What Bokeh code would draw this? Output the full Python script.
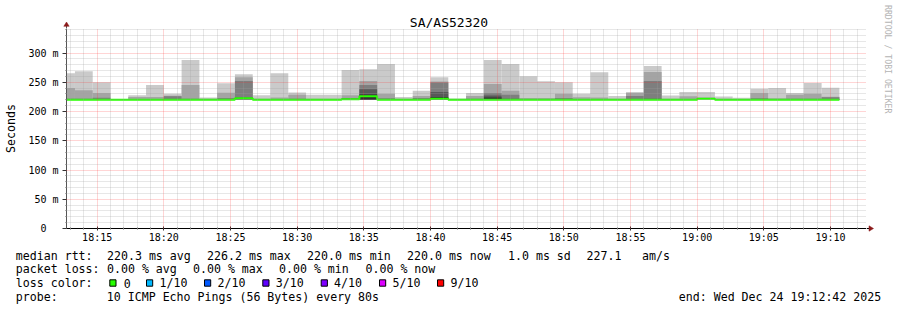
import calendar
import math
from datetime import datetime

from bokeh.plotting import figure
from bokeh.layouts import column, row
from bokeh.core.properties import value
from bokeh.models import (Range1d, FixedTicker, DatetimeTickFormatter, ColumnDataSource)
from bokeh.embed import file_html
from bokeh.resources import INLINE

# ---------------------------------------------------------------- data
TITLE = "SA/AS52320"
WINDOW_START = "2025-12-24 18:12:42"
WINDOW_END = "2025-12-24 19:12:42"
FIRST_STEP = "2025-12-24 18:12:00"
STEP_SECONDS = 80

# sorted ping values per 80 s step (ms): max (10th), 9th, 8th, 7th, 6th, lower pings, min
ping_max = [265.5, 269.0, 250.0, 221.5, 228.0, 245.5, 230.2, 288.0, 224.0, 248.5,
            263.7, 228.0, 265.5, 232.5, 228.5, 228.5, 271.0, 272.3, 281.0, 224.7,
            235.3, 258.7, 222.4, 231.8, 288.0, 281.0, 260.4, 251.9, 250.2, 230.4,
            267.2, 226.7, 233.2, 278.0, 227.5, 233.3, 233.3, 225.5, 223.5, 238.9,
            240.2, 231.5, 248.9, 240.4]
ping_p9 = [240.0, 236.5, 231.8, 221.0, 224.7, 225.0, 227.0, 245.5, 222.0, 232.0,
           258.6, 222.0, 224.0, 228.5, 222.0, 222.0, 228.0, 252.0, 230.3, 222.0,
           226.7, 251.3, 221.5, 226.7, 247.0, 235.3, 223.0, 223.0, 230.4, 224.5,
           224.0, 222.0, 231.5, 267.4, 222.0, 226.0, 224.0, 222.0, 221.5, 231.5,
           222.5, 228.7, 230.4, 225.3]
ping_p8 = [222.0, 222.0, 223.5, 220.5, 221.0, 221.5, 226.0, 222.0, 221.0, 223.0,
           252.0, 221.0, 221.5, 222.0, 221.0, 221.0, 223.0, 245.5, 222.5, 221.0,
           223.0, 249.5, 221.0, 222.0, 231.5, 228.8, 221.5, 221.5, 223.0, 221.5,
           221.5, 221.0, 226.4, 252.0, 221.0, 221.5, 222.5, 221.0, 221.0, 222.5,
           221.5, 222.0, 222.0, 224.5]
ping_p7 = [221.0, 221.0, 221.0, 220.3, 220.5, 221.0, 221.0, 221.0, 220.5, 221.0,
           224.0, 220.5, 221.0, 221.0, 220.5, 220.5, 222.0, 238.0, 221.0, 220.5,
           221.0, 233.5, 220.5, 221.0, 227.5, 222.0, 221.0, 221.0, 221.0, 221.0,
           221.0, 220.5, 221.5, 222.0, 220.5, 221.0, 222.2, 220.5, 220.5, 221.0,
           221.0, 221.0, 221.0, 221.0]
ping_p6 = [220.5, 220.5, 220.5, 220.2, 220.2, 220.5, 220.5, 220.5, 220.2, 220.5,
           222.8, 220.2, 220.5, 220.5, 220.2, 220.2, 221.5, 229.0, 220.5, 220.2,
           220.5, 225.0, 220.2, 220.5, 224.0, 221.0, 220.5, 220.5, 220.5, 220.5,
           220.5, 220.2, 220.5, 221.0, 220.2, 220.5, 222.1, 220.2, 220.3, 220.5,
           220.5, 220.5, 220.5, 220.5]
ping_low = [220.0, 220.0, 220.0, 220.0, 220.0, 220.0, 220.0, 220.0, 220.0, 220.0,
            221.0, 220.0, 220.0, 220.0, 220.0, 220.0, 220.5, 220.2, 220.0, 220.0,
            220.0, 221.0, 220.0, 220.0, 220.0, 220.0, 220.0, 220.0, 220.0, 220.0,
            220.0, 220.0, 220.0, 220.0, 220.0, 220.0, 221.9, 220.0, 220.1, 220.0,
            220.0, 220.0, 220.0, 220.0]
ping_min = [219.8, 219.8, 219.8, 219.8, 219.8, 219.8, 219.8, 219.8, 219.8, 219.8,
            219.8, 219.8, 219.8, 219.8, 219.8, 219.8, 219.8, 219.6, 219.8, 219.8,
            219.8, 219.8, 219.8, 219.8, 219.8, 219.8, 219.8, 219.8, 219.8, 219.8,
            219.8, 219.8, 219.8, 219.8, 219.8, 219.8, 219.8, 219.8, 219.8, 219.8,
            219.8, 219.8, 219.8, 219.8]
median = [220.0, 220.0, 220.0, 220.0, 220.0, 220.0, 220.0, 220.0, 220.0, 220.0,
          222.5, 220.0, 220.0, 220.0, 220.0, 220.0, 221.0, 226.2, 220.0, 220.0,
          220.0, 222.0, 220.0, 220.0, 220.0, 220.0, 220.0, 220.0, 220.0, 220.0,
          220.0, 220.0, 220.0, 220.0, 220.0, 220.0, 222.0, 220.0, 220.2, 220.0,
          220.0, 220.0, 220.0, 220.0]

x_tick_labels = ["18:15", "18:20", "18:25", "18:30", "18:35", "18:40",
                 "18:45", "18:50", "18:55", "19:00", "19:05", "19:10"]
y_ticks = [0, 50, 100, 150, 200, 250, 300]
y_tick_labels = ["0\u00a0\u00a0", "50 m", "100 m", "150 m", "200 m", "250 m", "300 m"]

loss_labels = ["0", "1/10", "2/10", "3/10", "4/10", "5/10", "9/10"]
loss_colors = ["#26ff00", "#00b8ff", "#0059ff", "#5e00ff", "#7e00ff", "#dd00ff", "#ff0000"]
smoke_colors = ["#cacaca", "#a4a4a4", "#7e7e7e", "#585858", "#323232"]

rtt_items = ["median rtt:", "220.3 ms avg", "226.2 ms max", "220.0 ms min",
             "220.0 ms now", "1.0 ms sd", "227.1", "am/s"]
loss_items = ["packet loss:", "0.00 % avg", "0.00 % max", "0.00 % min", "0.00 % now"]
probe_items = ["probe:", "10 ICMP Echo Pings (56 Bytes) every 80s"]
end_text = "end: Wed Dec 24 19:12:42 2025"
loss_head = "loss color:"
watermark = "RRDTOOL / TOBI OETIKER"
y_label = "Seconds"


# ---------------------------------------------------------------- helpers
def ms(s):
    return calendar.timegm(datetime.strptime(s, "%Y-%m-%d %H:%M:%S").timetuple()) * 1000


W, H = 897, 310
FL, FR, FT, FB = 66, 866, 28, 228     # plot frame in page pixels
LEG_TOP = 246                         # legend strip starts here
Y_TOP = 341.9
X0, X1 = ms(WINDOW_START), ms(WINDOW_END)
MONO = "DejaVu Sans Mono"
ARROW = "#8b1a1a"
AXIS = "#333333"
TXT_SHIFT = -3.0                      # glyph text baseline correction


def strip(x0, x1, y0, y1):
    """Blank figure whose frame covers it fully, in page-pixel coordinates."""
    f = figure(width=x1 - x0, height=y1 - y0, output_backend="svg", toolbar_location=None,
               x_range=Range1d(x0, x1), y_range=Range1d(y1, y0),
               min_border_left=0, min_border_right=0, min_border_top=0,
               min_border_bottom=0, x_axis_location=None, y_axis_location=None,
               background_fill_color="white", border_fill_color="white")
    f.outline_line_color = None
    f.grid.visible = False
    f.frame_align = False
    return f


n = len(median)
t_first = ms(FIRST_STEP)
left = [t_first + k * STEP_SECONDS * 1000 for k in range(n)]
right = [l + STEP_SECONDS * 1000 for l in left]

# ---------------------------------------------------------------- main figure
p = figure(width=FR, height=LEG_TOP - FT, x_axis_type="datetime", output_backend="svg",
           toolbar_location=None, x_range=Range1d(X0, X1), y_range=Range1d(0, Y_TOP),
           min_border_left=FL, min_border_right=0, min_border_top=0,
           min_border_bottom=LEG_TOP - FB, background_fill_color="white",
           border_fill_color="white")
p.outline_line_color = None
p.frame_align = False

# smoke: pairs (1,10), (2,9), (3,8), (4,7), (5,6)
lows = [ping_min, ping_low, ping_low, ping_low, ping_low]
highs = [ping_max, ping_p9, ping_p8, ping_p7, ping_p6]
for lo, hi, col in zip(lows, highs, smoke_colors):
    src = ColumnDataSource(dict(left=left, right=right, bottom=lo, top=hi))
    p.quad(left="left", right="right", bottom="bottom", top="top", source=src,
           fill_color=col, line_color=None)

# median line
xs = left + [right[-1]]
ys = median + [median[-1]]
p.step(xs, ys, mode="after", line_color=loss_colors[0], line_width=2)

# ticks / grid
x_ticks = [ms("2025-12-24 %s:00" % t) for t in x_tick_labels]
x_minor = []
m = X0 - (X0 % 60000) + 60000
while m < X1:
    if m not in x_ticks:
        x_minor.append(m)
    m += 60000
xticker = FixedTicker(ticks=x_ticks, minor_ticks=x_minor)
y_minor = [v for v in range(10, 350, 10) if v not in y_ticks]
yticker = FixedTicker(ticks=y_ticks, minor_ticks=y_minor)

p.xaxis.ticker = xticker
p.yaxis.ticker = yticker
p.xgrid.ticker = xticker
p.ygrid.ticker = yticker
p.xaxis.formatter = DatetimeTickFormatter(minutes="%H:%M", hourmin="%H:%M", hours="%H:%M",
                                          minsec="%H:%M", seconds="%H:%M")
p.xaxis.major_label_overrides = dict(zip(x_ticks, x_tick_labels))
p.yaxis.major_label_overrides = dict(zip(y_ticks, y_tick_labels))

for g in (p.xgrid, p.ygrid):
    g.level = "annotation"
    g.grid_line_color = "#ff3030"
    g.grid_line_alpha = 0.4
    g.grid_line_dash = "1 1"
    g.minor_grid_line_color = "#a0a0a0"
    g.minor_grid_line_alpha = 0.5
    g.minor_grid_line_dash = "1 1"

for ax in (p.xaxis, p.yaxis):
    ax.major_label_text_font = MONO
    ax.major_label_text_font_size = "10px"
    ax.major_label_text_color = "black"
    ax.axis_line_width = 1
    ax.major_tick_line_color = AXIS
    ax.minor_tick_line_color = "#666666"
p.xaxis.axis_line_color = "black"
p.yaxis.axis_line_color = "#555555"

p.xaxis.major_tick_in = 2
p.xaxis.major_tick_out = 2
p.xaxis.minor_tick_in = 1
p.xaxis.minor_tick_out = 1
p.xaxis.major_label_standoff = 1
p.yaxis.major_tick_in = 0
p.yaxis.major_tick_out = 4
p.yaxis.minor_tick_in = 0
p.yaxis.minor_tick_out = 1
p.yaxis.major_label_standoff = 4
p.yaxis.axis_label = y_label
p.yaxis.axis_label_text_font = MONO
p.yaxis.axis_label_text_font_size = "11.6px"
p.yaxis.axis_label_text_font_style = "normal"
p.yaxis.axis_label_text_color = "black"
p.yaxis.axis_label_standoff = 7

# ---------------------------------------------------------------- top strip: title + y arrow
top = strip(0, FR, 0, FT)
top.text(x=[W / 2], y=[24.5 + TXT_SHIFT], text=[TITLE], text_font=value(MONO),
         text_font_size=value("13px"), text_align="center", text_baseline="alphabetic",
         text_color="black")
top.segment(x0=[FL], y0=[FT], x1=[FL], y1=[25.5], line_color="#555555", line_width=1)
top.patch(x=[FL - 2.7, FL + 2.7, FL], y=[25.8, 25.8, 21.5], fill_color=ARROW,
          line_color=ARROW, line_width=0.5)

# ---------------------------------------------------------------- right strip: watermark + x arrow
side = strip(FR, W, 0, LEG_TOP)
side.text(x=[887.5], y=[4.5], text=[watermark], angle=-math.pi / 2,
          text_font=value(MONO), text_font_size=value("8.2px"), text_align="left",
          text_baseline="middle", text_color="#b4b4b4")
side.segment(x0=[FR], y0=[FB], x1=[FR + 3], y1=[FB], line_color="black", line_width=1)
side.patch(x=[FR + 2.5, FR + 2.5, FR + 7], y=[FB - 2.7, FB + 2.7, FB], fill_color=ARROW,
           line_color=ARROW, line_width=0.5)

# ---------------------------------------------------------------- legend strip
q = strip(0, W, LEG_TOP, H)

B1, B2, B3, B4 = [b + TXT_SHIFT for b in (258.0, 271.8, 285.6, 299.4)]
tx, ty, tt = [], [], []
for t, px in zip(rtt_items, [15.3, 106.5, 206.5, 306.5, 406.5, 507.5, 586.0, 641.5]):
    tx.append(px); ty.append(B1); tt.append(t)
for t, px in zip(loss_items, [15.3, 106.5, 192.5, 278.5, 365.0]):
    tx.append(px); ty.append(B2); tt.append(t)
tx.append(15.3); ty.append(B3); tt.append(loss_head)
lab_x = [123.3, 159.0, 217.0, 275.3, 333.6, 392.0, 450.0]
for t, px in zip(loss_labels, lab_x):
    tx.append(px); ty.append(B3); tt.append(t)
for t, px in zip(probe_items, [15.3, 106.3]):
    tx.append(px); ty.append(B4); tt.append(t)
tx.append(678.3); ty.append(B4); tt.append(end_text)

q.text(x=tx, y=ty, text=tt, text_font=value(MONO), text_font_size=value("11.6px"),
       text_baseline="alphabetic", text_align="left", text_color="black")

box_x = [109.3, 146.0, 204.0, 262.3, 320.7, 379.0, 437.0]
q.quad(left=box_x, right=[b + 6.2 for b in box_x], top=[279.3] * len(box_x),
       bottom=[285.7] * len(box_x), fill_color=loss_colors, line_color="black",
       line_width=1)

layout = column(row(column(top, p, spacing=0), side, spacing=0), q, spacing=0)
open("out.html", "w").write(file_html(layout, INLINE))
